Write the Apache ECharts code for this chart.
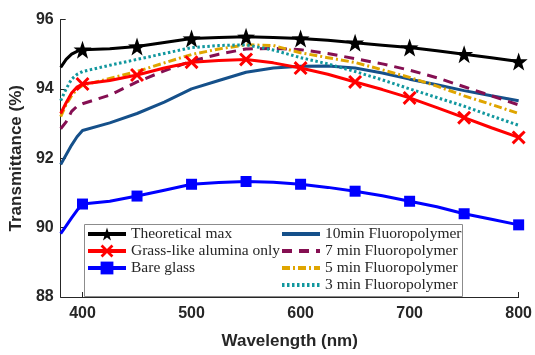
<!DOCTYPE html>
<html>
<head>
<meta charset="utf-8">
<script src="https://cdn.jsdelivr.net/npm/echarts@6/dist/echarts.min.js"></script>
<style>
  html, body { margin: 0; padding: 0; background: #fff; }
  #chart { width: 535px; height: 355px; }
</style>
</head>
<body>
<div id="chart"></div>
<script>
// wavelength (nm) shared by all curves
var wavelength = [380, 385, 390, 395, 400, 425, 450, 475, 500, 525, 550, 575, 600, 625, 650, 675, 700, 725, 750, 775, 800];

var theoretical = [94.62, 94.85, 95.0, 95.08, 95.13, 95.16, 95.22, 95.34, 95.45, 95.48, 95.5, 95.48, 95.45, 95.4, 95.33, 95.26, 95.19, 95.1, 95.0, 94.9, 94.79];
var grassAlumina = [93.29, 93.6, 93.88, 94.05, 94.14, 94.24, 94.4, 94.6, 94.77, 94.82, 94.85, 94.75, 94.6, 94.42, 94.2, 93.98, 93.74, 93.46, 93.17, 92.88, 92.6];
var bareGlass = [89.83, 90.05, 90.28, 90.5, 90.68, 90.76, 90.91, 91.08, 91.25, 91.3, 91.33, 91.31, 91.25, 91.16, 91.05, 90.92, 90.76, 90.6, 90.4, 90.24, 90.08];
var fluoro10 = [91.82, 92.1, 92.38, 92.62, 92.8, 93.02, 93.29, 93.62, 94.0, 94.24, 94.48, 94.6, 94.65, 94.66, 94.6, 94.46, 94.28, 94.12, 93.95, 93.8, 93.66];
var fluoro7 = [92.85, 93.05, 93.35, 93.5, 93.57, 93.82, 94.2, 94.52, 94.8, 95.0, 95.15, 95.17, 95.13, 95.02, 94.87, 94.72, 94.54, 94.32, 94.06, 93.8, 93.54];
var fluoro5 = [93.2, 93.55, 93.8, 94.0, 94.1, 94.3, 94.5, 94.75, 94.99, 95.15, 95.27, 95.25, 95.04, 94.9, 94.76, 94.55, 94.33, 94.08, 93.8, 93.55, 93.29];
var fluoro3 = [93.66, 94.0, 94.28, 94.42, 94.5, 94.68, 94.85, 95.02, 95.19, 95.25, 95.27, 95.12, 94.9, 94.72, 94.5, 94.26, 94.0, 93.75, 93.5, 93.22, 92.95];

var markedNames = ['Theoretical max', 'Grass-like alumina only', 'Bare glass'];
var plainNames = ['10min Fluoropolymer', '7 min Fluoropolymer', '5 min Fluoropolymer', '3 min Fluoropolymer'];

var STAR = 'path://M0,-10 L2.35,-3.24 L9.51,-3.09 L3.8,1.24 L5.88,8.09 L0,4 L-5.88,8.09 L-3.8,1.24 L-9.51,-3.09 L-2.35,-3.24 Z';
var CROSS = 'path://M-10,-7 L-7,-10 L0,-3 L7,-10 L10,-7 L3,0 L10,7 L7,10 L0,3 L-7,10 L-10,7 L-3,0 Z';

// markers only every 50 nm from 400
function pts(ys, withMarkers) {
  return wavelength.map(function (w, i) {
    var item = { value: [w, ys[i]] };
    if (withMarkers && !(w >= 400 && w % 50 === 0)) item.symbol = 'none';
    return item;
  });
}

var axisColor = '#262626';
var labelFont = { fontFamily: 'Liberation Sans', fontWeight: 'bold', fontSize: 16, color: axisColor };
var legendFont = { fontFamily: 'Liberation Serif', fontSize: 15.5, color: axisColor };

function lineSeries(name, ys, color, opts) {
  return {
    name: name,
    type: 'line',
    data: pts(ys, !!opts.symbol),
    symbol: opts.symbol || 'none',
    symbolSize: opts.symbolSize || 0,
    showAllSymbol: true,
    lineStyle: { color: color, width: 3, type: opts.dash || 'solid' },
    itemStyle: { color: color },
    z: opts.z || 2,
    emphasis: { disabled: true }
  };
}

function legendCol(data, left) {
  return {
    data: data,
    orient: 'vertical',
    left: left,
    top: 226,
    padding: 0,
    itemWidth: 38,
    itemHeight: 16,
    itemGap: 1,
    lineStyle: { width: 4 },
    textStyle: legendFont,
    z: 60,
    selectedMode: false
  };
}

var chart = echarts.init(document.getElementById('chart'));
chart.setOption({
  backgroundColor: '#fff',
  animation: false,
  grid: { left: 60, right: 16, top: 19.5, bottom: 54 },
  xAxis: {
    type: 'value',
    min: 380,
    max: 800,
    name: 'Wavelength (nm)',
    nameLocation: 'middle',
    nameGap: 36,
    nameTextStyle: { fontFamily: 'Liberation Sans', fontWeight: 'bold', fontSize: 17, color: axisColor },
    axisLine: { lineStyle: { color: axisColor, width: 1 } },
    axisTick: { inside: true, length: 5, customValues: [400, 500, 600, 700, 800], lineStyle: { color: axisColor } },
    axisLabel: Object.assign({ margin: 9, customValues: [400, 500, 600, 700, 800] }, labelFont),
    splitLine: { show: false }
  },
  yAxis: {
    type: 'value',
    min: 88,
    max: 96,
    interval: 2,
    name: 'Transmittance (%)',
    nameLocation: 'middle',
    nameGap: 32,
    nameTextStyle: { fontFamily: 'Liberation Sans', fontWeight: 'bold', fontSize: 17, color: axisColor },
    axisLine: { show: true, lineStyle: { color: axisColor, width: 1 } },
    axisTick: { show: true, inside: true, length: 5, lineStyle: { color: axisColor } },
    axisLabel: Object.assign({ margin: 7 }, labelFont),
    splitLine: { show: false }
  },
  graphic: [{
    type: 'rect',
    shape: { x: 84.5, y: 224.5, width: 378, height: 72 },
    style: { fill: '#fff', stroke: '#8c8c8c', lineWidth: 1 },
    z: 50
  }],
  legend: [
    legendCol(markedNames, 86),
    legendCol(plainNames.map(function (n) { return { name: n, itemStyle: { opacity: 0 } }; }), 280)
  ],
  series: [
    lineSeries(markedNames[0], theoretical, '#000000', { symbol: STAR, symbolSize: 18, z: 9 }),
    lineSeries(markedNames[1], grassAlumina, '#ff0000', { symbol: CROSS, symbolSize: 14, z: 8 }),
    lineSeries(markedNames[2], bareGlass, '#0000ff', { symbol: 'rect', symbolSize: 11, z: 7 }),
    lineSeries(plainNames[0], fluoro10, '#15508a', { z: 3 }),
    lineSeries(plainNames[1], fluoro7, '#850f52', { dash: [10, 7], z: 4 }),
    lineSeries(plainNames[2], fluoro5, '#dfa500', { dash: [8, 3, 2, 3], z: 5 }),
    lineSeries(plainNames[3], fluoro3, '#11979e', { dash: [2.5, 2.5], z: 6 })
  ]
});
</script>
</body>
</html>
